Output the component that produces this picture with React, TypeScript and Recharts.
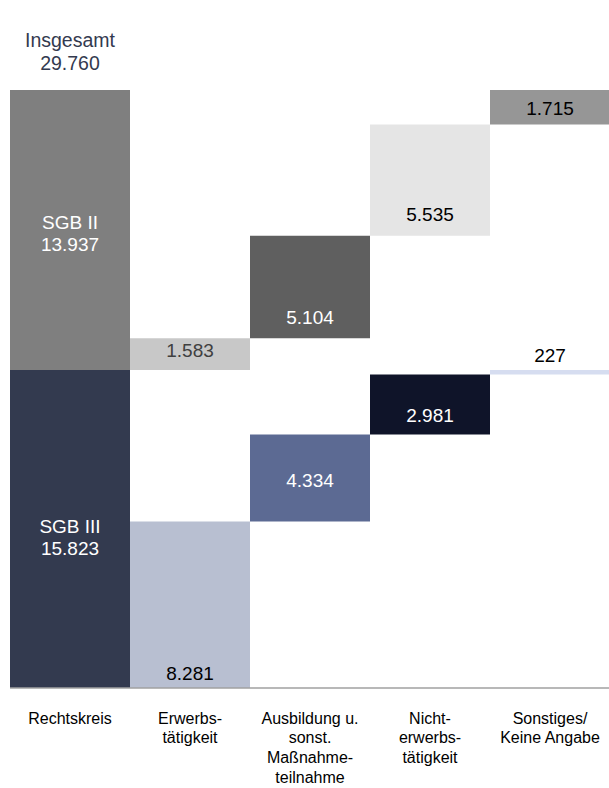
import { BarChart, Bar, XAxis, YAxis, Cell, LabelList } from "recharts";

const categories = [
  ["Rechtskreis"],
  ["Erwerbs-", "tätigkeit"],
  ["Ausbildung u.", "sonst.", "Maßnahme-", "teilnahme"],
  ["Nicht-", "erwerbs-", "tätigkeit"],
  ["Sonstiges/", "Keine Angabe"],
];
const seriesNames = ["SGB III", "SGB II"];
const totalLabel = "Insgesamt";
const total = 29760;
const sgb3 = [15823, 8281, 4334, 2981, 227];
const sgb2 = [13937, 1583, 5104, 5535, 1715];

// colours and label placement per column
const colors3 = ["#333a4f", "#b8bfd1", "#5c6a93", "#0f1429", "#d6ddf0"];
const colors2 = ["#7f7f7f", "#c8c8c8", "#5f5f5f", "#e5e5e5", "#969696"];
const place3 = [
  { at: "center", dy: 8, color: "#ffffff" },
  { at: "bottom", dy: -15, color: "#000000" },
  { at: "center", dy: 2, color: "#ffffff" },
  { at: "bottom", dy: -19, color: "#ffffff" },
  { at: "top", dy: -15, color: "#000000" },
];
const place2 = [
  { at: "center", dy: 3, color: "#ffffff" },
  { at: "center", dy: -4, color: "#404040" },
  { at: "bottom", dy: -21, color: "#ffffff" },
  { at: "bottom", dy: -21, color: "#000000" },
  { at: "center", dy: 1, color: "#000000" },
];

const FONT = "'Liberation Sans', Arial, sans-serif";

const fmt = (v: number) => String(v).replace(/\B(?=(\d{3})+(?!\d))/g, ".");

const rows = categories.map((lines, i) => {
  const prev3 = sgb3.slice(1, i).reduce((s, v) => s + v, 0);
  const prev2 = sgb2.slice(1, i).reduce((s, v) => s + v, 0);
  const base3 = i === 0 ? 0 : prev3;
  const start2 = i === 0 ? sgb3[0] : sgb3[0] + prev2;
  return {
    name: lines.join(" "),
    base3,
    v3: sgb3[i],
    gap2: start2 - base3 - sgb3[i],
    v2: sgb2[i],
  };
});

const makeLabel = (values: number[], place: typeof place3, series: number) => (props: any) => {
  const { index } = props;
  const x = Number(props.x);
  const y0 = Number(props.y);
  const h = Number(props.height);
  const w = Number(props.width);
  const top = Math.min(y0, y0 + h);
  const bottom = Math.max(y0, y0 + h);
  const p = place[index];
  const anchor = p.at === "center" ? (top + bottom) / 2 : p.at === "bottom" ? bottom : top;
  const cy = anchor + p.dy;
  const cx = x + w / 2;
  const common = {
    x: cx,
    textAnchor: "middle" as const,
    dominantBaseline: "central" as const,
    fontSize: 19,
    fontFamily: FONT,
    fill: p.color,
  };
  if (index === 0) {
    return (
      <g>
        <text {...common} y={cy - 11}>{seriesNames[series]}</text>
        <text {...common} y={cy + 11}>{fmt(values[index])}</text>
        {series === 1 && (
          <>
            <text {...common} fill="#333a4f" fontSize={19.5} y={top - 50}>{totalLabel}</text>
            <text {...common} fill="#333a4f" fontSize={19.5} y={top - 27}>{fmt(total)}</text>
          </>
        )}
      </g>
    );
  }
  return (
    <text {...common} y={cy}>
      {fmt(values[index])}
    </text>
  );
};

const CategoryTick = (props: any) => {
  const { x, y, payload } = props;
  const idx = props.index ?? payload.index;
  const lines = categories[idx] || [];
  return (
    <text x={x} y={y} textAnchor="middle" fontSize={16} fontFamily={FONT} fill="#000000">
      {lines.map((l, k) => (
        <tspan key={k} x={x} y={y + 35.5 + k * 19.7}>
          {l}
        </tspan>
      ))}
    </text>
  );
};

export default function App() {
  return (
    <div
      style={{
        position: "fixed",
        left: 0,
        top: 0,
        width: 609,
        height: 788,
        overflow: "hidden",
        background: "#ffffff",
      }}
    >
      <div style={{ position: "absolute", left: 8, top: 8 }}>
        <BarChart
          width={602}
          height={780}
          data={rows}
          margin={{ top: 82, right: 0, left: 2, bottom: 0 }}
          barCategoryGap={0}
          barGap={0}
        >
          <XAxis
            dataKey="name"
            height={100}
            interval={0}
            tickLine={false}
            tickSize={0}
            tickMargin={0}
            axisLine={{ stroke: "#a0a0a0", strokeWidth: 1.5 }}
            tick={<CategoryTick />}
          />
          <YAxis hide domain={[0, total]} />
          <Bar dataKey="base3" stackId="a" fill="transparent" isAnimationActive={false} />
          <Bar dataKey="v3" stackId="a" isAnimationActive={false}>
            {rows.map((_, i) => (
              <Cell key={`c3-${i}`} fill={colors3[i]} />
            ))}
            <LabelList content={makeLabel(sgb3, place3, 0)} />
          </Bar>
          <Bar dataKey="gap2" stackId="a" fill="transparent" isAnimationActive={false} />
          <Bar dataKey="v2" stackId="a" isAnimationActive={false}>
            {rows.map((_, i) => (
              <Cell key={`c2-${i}`} fill={colors2[i]} />
            ))}
            <LabelList content={makeLabel(sgb2, place2, 1)} />
          </Bar>
        </BarChart>
      </div>
    </div>
  );
}
